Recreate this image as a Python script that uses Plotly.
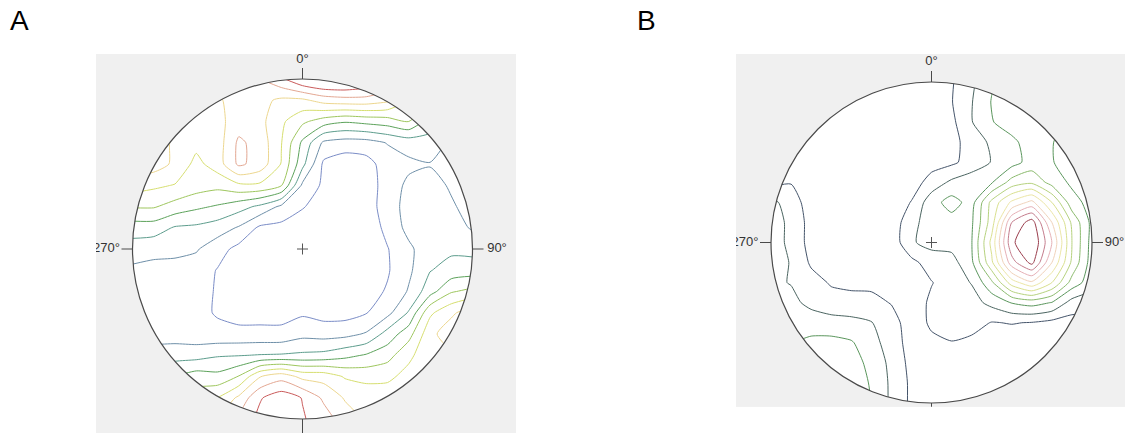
import numpy as np
import plotly.graph_objects as go

# ---------------- data (density grids) ----------------
# grid coordinates in units of the net radius (x: west->east, y: south->north)
GRID = [-1 + 0.125 * i for i in range(17)]

# Panel A density rows, listed from north (y=+1) to south (y=-1)
A_ROWS = [
    [6.5, 6.8, 7.0, 7.3, 7.5, 8.0, 8.0, 8.8, 10.0, 10.5, 10.5, 10.0, 9.0, 7.5, 6.0, 4.5, 3.5],
    [6.5, 6.8, 7.0, 7.2, 6.8, 7.6, 7.3, 6.8, 6.8, 7.4, 7.6, 7.6, 7.2, 6.0, 5.0, 4.0, 3.0],
    [6.8, 6.9, 7.2, 6.6, 6.7, 7.5, 7.3, 6.2, 5.2, 4.5, 4.1, 4.3, 4.5, 5.0, 3.5, 2.5, 2.0],
    [7.6, 7.6, 6.8, 6.3, 6.5, 8.2, 7.6, 6.05, 3.8, 1.8, 1.55, 1.6, 2.05, 2.4, 2.6, 1.8, 1.5],
    [7.6, 7.5, 6.8, 5.7, 6.5, 8.2, 7.6, 5.95, 3.3, 0.8, 0.4, 0.6, 1.5, 1.8, 1.95, 1.7, 1.5],
    [6.5, 6.2, 5.95, 5.5, 5.3, 5.8, 5.8, 5.1, 1.8, 0.8, 0.3, 0.4, 1.5, 2.2, 2.3, 1.9, 1.6],
    [5.1, 5.1, 4.6, 4.2, 3.9, 3.4, 2.8, 1.8, 1.1, 0.4, 0.3, 0.4, 1.6, 2.3, 2.4, 2.1, 1.7],
    [3.5, 3.5, 2.9, 2.8, 2.5, 1.9, 0.8, 0.7, 0.3, 0.2, 0.2, 0.3, 1.3, 2.3, 2.5, 2.4, 1.9],
    [2.5, 2.3, 2.3, 2.1, 1.4, 0.7, 0.4, 0.3, 0.2, 0.2, 0.3, 0.5, 0.95, 1.8, 2.6, 2.8, 2.7],
    [1.8, 1.7, 1.6, 1.5, 0.95, 0.5, 0.4, 0.3, 0.3, 0.3, 0.4, 0.6, 0.9, 1.8, 2.95, 3.4, 3.5],
    [1.6, 1.5, 1.5, 1.4, 0.9, 0.5, 0.4, 0.3, 0.3, 0.3, 0.4, 0.6, 1.1, 2.1, 3.6, 4.9, 5.3],
    [1.6, 1.5, 1.4, 1.3, 0.9, 0.6, 0.6, 0.6, 0.85, 0.6, 0.6, 0.95, 1.7, 3.1, 5.8, 6.8, 7.6],
    [1.6, 1.6, 1.5, 1.4, 1.3, 1.3, 1.3, 1.3, 1.7, 1.6, 1.7, 2.1, 3.4, 4.6, 6.7, 7.6, 7.5],
    [2.3, 2.4, 2.6, 2.6, 2.9, 2.95, 3.05, 3.1, 3.2, 3.3, 3.7, 4.1, 4.6, 5.8, 6.6, 6.8, 6.9],
    [3.0, 3.5, 4.0, 4.5, 4.3, 5.05, 6.95, 7.6, 6.7, 6.6, 5.9, 5.7, 5.8, 6.3, 6.5, 6.8, 6.9],
    [4.0, 4.5, 5.0, 5.5, 6.0, 7.2, 8.9, 9.6, 8.95, 7.8, 6.9, 6.6, 6.5, 6.6, 6.8, 6.9, 6.9],
    [5.0, 5.5, 6.0, 6.5, 7.0, 8.2, 9.3, 10.0, 9.1, 8.5, 7.5, 6.9, 6.8, 6.8, 6.9, 6.9, 6.9],
]

# Panel B density rows, listed from north (y=+1) to south (y=-1)
B_ROWS = [
    [0.3, 0.3, 0.3, 0.3, 0.3, 0.3, 0.3, 0.3, 0.4, 0.9, 1.8, 2.9, 3.4, 3.4, 3.3, 3.0, 2.8],
    [0.3, 0.3, 0.3, 0.3, 0.3, 0.3, 0.3, 0.3, 0.4, 0.95, 1.95, 3.05, 3.4, 3.5, 3.3, 3.0, 2.7],
    [0.3, 0.3, 0.3, 0.3, 0.3, 0.3, 0.3, 0.3, 0.4, 0.75, 1.95, 2.95, 3.4, 3.5, 3.3, 2.8, 2.5],
    [0.3, 0.3, 0.3, 0.3, 0.3, 0.3, 0.3, 0.35, 0.45, 0.7, 1.4, 2.2, 2.8, 3.4, 3.05, 2.5, 2.3],
    [0.3, 0.3, 0.3, 0.3, 0.3, 0.3, 0.3, 0.35, 0.6, 0.8, 1.4, 2.05, 2.6, 3.4, 3.05, 2.6, 2.4],
    [0.6, 0.95, 0.3, 0.3, 0.3, 0.3, 0.3, 0.5, 1.4, 2.2, 2.6, 2.9, 4.4, 4.8, 3.6, 2.8, 2.5],
    [2.3, 1.5, 0.5, 0.3, 0.3, 0.3, 0.3, 1.05, 2.6, 3.4, 2.6, 5.3, 7.2, 8.3, 6.0, 3.4, 2.6],
    [2.4, 1.8, 0.6, 0.3, 0.3, 0.3, 0.3, 1.75, 2.4, 2.6, 2.85, 5.5, 10.0, 11.5, 8.0, 4.8, 2.7],
    [2.4, 1.8, 0.6, 0.3, 0.3, 0.3, 0.3, 1.9, 2.3, 2.4, 2.95, 6.3, 10.8, 12.0, 9.0, 5.0, 2.6],
    [2.4, 1.95, 0.85, 0.3, 0.3, 0.3, 0.3, 0.7, 1.5, 1.6, 2.8, 5.8, 9.6, 11.3, 8.0, 4.8, 2.5],
    [2.2, 1.95, 1.4, 0.9, 0.8, 0.75, 0.5, 0.4, 0.95, 1.5, 2.05, 3.8, 6.5, 7.8, 6.0, 3.6, 2.4],
    [2.2, 2.3, 1.7, 1.4, 1.3, 1.3, 0.95, 0.4, 1.2, 1.5, 1.6, 2.3, 3.05, 3.4, 2.95, 1.6, 1.5],
    [2.4, 2.3, 2.6, 2.4, 2.3, 2.05, 1.4, 0.5, 1.15, 1.5, 1.4, 0.95, 1.05, 0.95, 0.7, 0.6, 0.6],
    [3.0, 3.0, 3.2, 3.3, 3.1, 2.4, 1.5, 0.6, 0.8, 0.95, 0.75, 0.4, 0.4, 0.4, 0.4, 0.4, 0.5],
    [3.2, 3.2, 3.2, 3.4, 3.3, 2.8, 1.7, 0.7, 0.4, 0.4, 0.4, 0.4, 0.4, 0.4, 0.4, 0.4, 0.4],
    [3.3, 3.3, 3.3, 3.3, 3.3, 2.95, 1.8, 0.8, 0.4, 0.4, 0.4, 0.4, 0.4, 0.4, 0.4, 0.4, 0.4],
    [3.3, 3.3, 3.3, 3.3, 3.3, 3.0, 1.8, 0.8, 0.4, 0.4, 0.4, 0.4, 0.4, 0.4, 0.4, 0.4, 0.4],
]

A_LEVELS = [1, 2, 3, 4, 5, 6, 7, 8, 9]
A_COLORS = ['#7a8cc6', '#6e8fa8', '#5c9c8c', '#5ca25a', '#9ec65e', '#d6de70',
            '#ecd68e', '#e3a792', '#c95a5a']
B_LEVELS = [1, 2, 3, 4, 5, 6, 7, 8, 9, 10, 11]
B_COLORS = ['#44546a', '#4a6460', '#5a965c', '#8aba6c', '#b6d27e', '#d9e08e',
            '#ece6a6', '#f0d2ba', '#e6b0b6', '#c47c8c', '#9a3c4c']

DIR_LABELS = ['0°', '90°', '270°']
PANEL_LABELS = ['A', 'B']

# ---------------- layout geometry (pixels of the 1125x434 page) ----------------
W, H = 1125, 434
BG = '#f0f0f0'
EDGE = '#4a4a4a'

panels = [
    # rect (left, top, right, bottom), circle centre, radius, bottom tick length
    dict(rect=(96, 54, 516, 433), c=(302.5, 249.0), R=170.0, btick=16, xa='x', ya='y',
         lab90=497.0, lab0=60.0),
    dict(rect=(736, 54, 1125, 406.7), c=(931.5, 242.5), R=160.5, btick=10, xa='x2', ya='y2',
         lab90=1114.5, lab0=62.0),
]


def scale(colors):
    n = len(colors)
    return [[i / (n - 1), c] for i, c in enumerate(colors)]


fig = go.Figure()
layout_axes = {}
shapes = []

for k, (p, rows, levels, colors) in enumerate(zip(
        panels, [A_ROWS, B_ROWS], [A_LEVELS, B_LEVELS], [A_COLORS, B_COLORS])):
    L, T, Rr, Bt = p['rect']
    cx, cy = p['c']
    R = p['R']
    xr = [(L - cx) / R, (Rr - cx) / R]
    yr = [(cy - Bt) / R, (cy - T) / R]
    sfx = '' if k == 0 else '2'
    layout_axes['xaxis' + sfx] = dict(domain=[L / W, Rr / W], range=xr, visible=False,
                                      anchor='y' + sfx, fixedrange=True)
    layout_axes['yaxis' + sfx] = dict(domain=[1 - Bt / H, 1 - T / H], range=yr, visible=False,
                                      anchor='x' + sfx, fixedrange=True)
    xa, ya = p['xa'], p['ya']

    # white net
    shapes.append(dict(type='circle', xref=xa, yref=ya, x0=-1, y0=-1, x1=1, y1=1,
                       fillcolor='white', line=dict(width=0), layer='below'))

    z = rows[::-1]  # south -> north
    fig.add_trace(go.Contour(
        x=GRID, y=GRID, z=z, xaxis=xa, yaxis=ya,
        contours=dict(start=levels[0], end=levels[-1], size=1, coloring='lines'),
        colorscale=scale(colors), zmin=levels[0], zmax=levels[-1],
        line=dict(width=1, smoothing=0.6), showscale=False, hoverinfo='skip'))

    # mask outside the net (two halves)
    X0, X1 = xr[0] - 0.2, xr[1] + 0.2
    Y0, Y1 = yr[0] - 0.2, yr[1] + 0.2
    e = 0.06
    t = np.linspace(-e, np.pi + e, 240)
    mx = list(np.cos(t)) + [X0, X0, X1, X1, np.cos(e)]
    my = list(np.sin(t)) + [-np.sin(e), Y1, Y1, -np.sin(e), -np.sin(e)]
    fig.add_trace(go.Scatter(x=mx, y=my, xaxis=xa, yaxis=ya, fill='toself', fillcolor=BG,
                             mode='lines', line=dict(width=0, color=BG), hoverinfo='skip',
                             showlegend=False))
    t = np.linspace(np.pi - e, 2 * np.pi + e, 240)
    mx = list(np.cos(t)) + [X1, X1, X0, X0, -np.cos(e)]
    my = list(np.sin(t)) + [np.sin(e), Y0, Y0, np.sin(e), np.sin(e)]
    fig.add_trace(go.Scatter(x=mx, y=my, xaxis=xa, yaxis=ya, fill='toself', fillcolor=BG,
                             mode='lines', line=dict(width=0, color=BG), hoverinfo='skip',
                             showlegend=False))

    # outline, ticks, centre cross
    shapes.append(dict(type='circle', xref=xa, yref=ya, x0=-1, y0=-1, x1=1, y1=1,
                       line=dict(color=EDGE, width=1.2), layer='above'))
    tk = 11 / R
    for (x0, y0, x1, y1) in [(0, 1, 0, 1 + tk), (1, 0, 1 + tk, 0), (-1, 0, -1 - tk, 0),
                             (0, -1, 0, -1 - p['btick'] / R)]:
        shapes.append(dict(type='line', xref=xa, yref=ya, x0=x0, y0=y0, x1=x1, y1=y1,
                           line=dict(color=EDGE, width=1), layer='above'))
    cr = 5.5 / R
    shapes.append(dict(type='line', xref=xa, yref=ya, x0=-cr, y0=0, x1=cr, y1=0,
                       line=dict(color='#555555', width=1), layer='above'))
    shapes.append(dict(type='line', xref=xa, yref=ya, x0=0, y0=-cr, x1=0, y1=cr,
                       line=dict(color='#555555', width=1), layer='above'))

    # direction labels (clipped to the grey panel like the original)
    lx = [0, (p['lab90'] - cx) / R, -1 - 26 / R]
    ly = [(cy - p['lab0']) / R, 0, 0]
    fig.add_trace(go.Scatter(x=lx, y=ly, xaxis=xa, yaxis=ya, mode='text', text=DIR_LABELS,
                             textposition='middle center',
                             textfont=dict(family='Liberation Sans, Arial', size=13,
                                           color='#333333'),
                             hoverinfo='skip', showlegend=False, cliponaxis=True))

annotations = [
    dict(text=PANEL_LABELS[0], x=8 / W, y=1 - 21 / H, xref='paper', yref='paper',
         xanchor='left', yanchor='middle', showarrow=False,
         font=dict(family='Liberation Sans, Arial', size=28, color='black')),
    dict(text=PANEL_LABELS[1], x=635 / W, y=1 - 21 / H, xref='paper', yref='paper',
         xanchor='left', yanchor='middle', showarrow=False,
         font=dict(family='Liberation Sans, Arial', size=28, color='black')),
]

fig.update_layout(width=W, height=H, margin=dict(l=0, r=0, t=0, b=0),
                  paper_bgcolor='white', plot_bgcolor=BG, showlegend=False,
                  shapes=shapes, annotations=annotations, **layout_axes)

fig.write_html('out.html', config={'displayModeBar': False},
               post_script="document.body.style.margin='0px';document.body.style.padding='0px';")
